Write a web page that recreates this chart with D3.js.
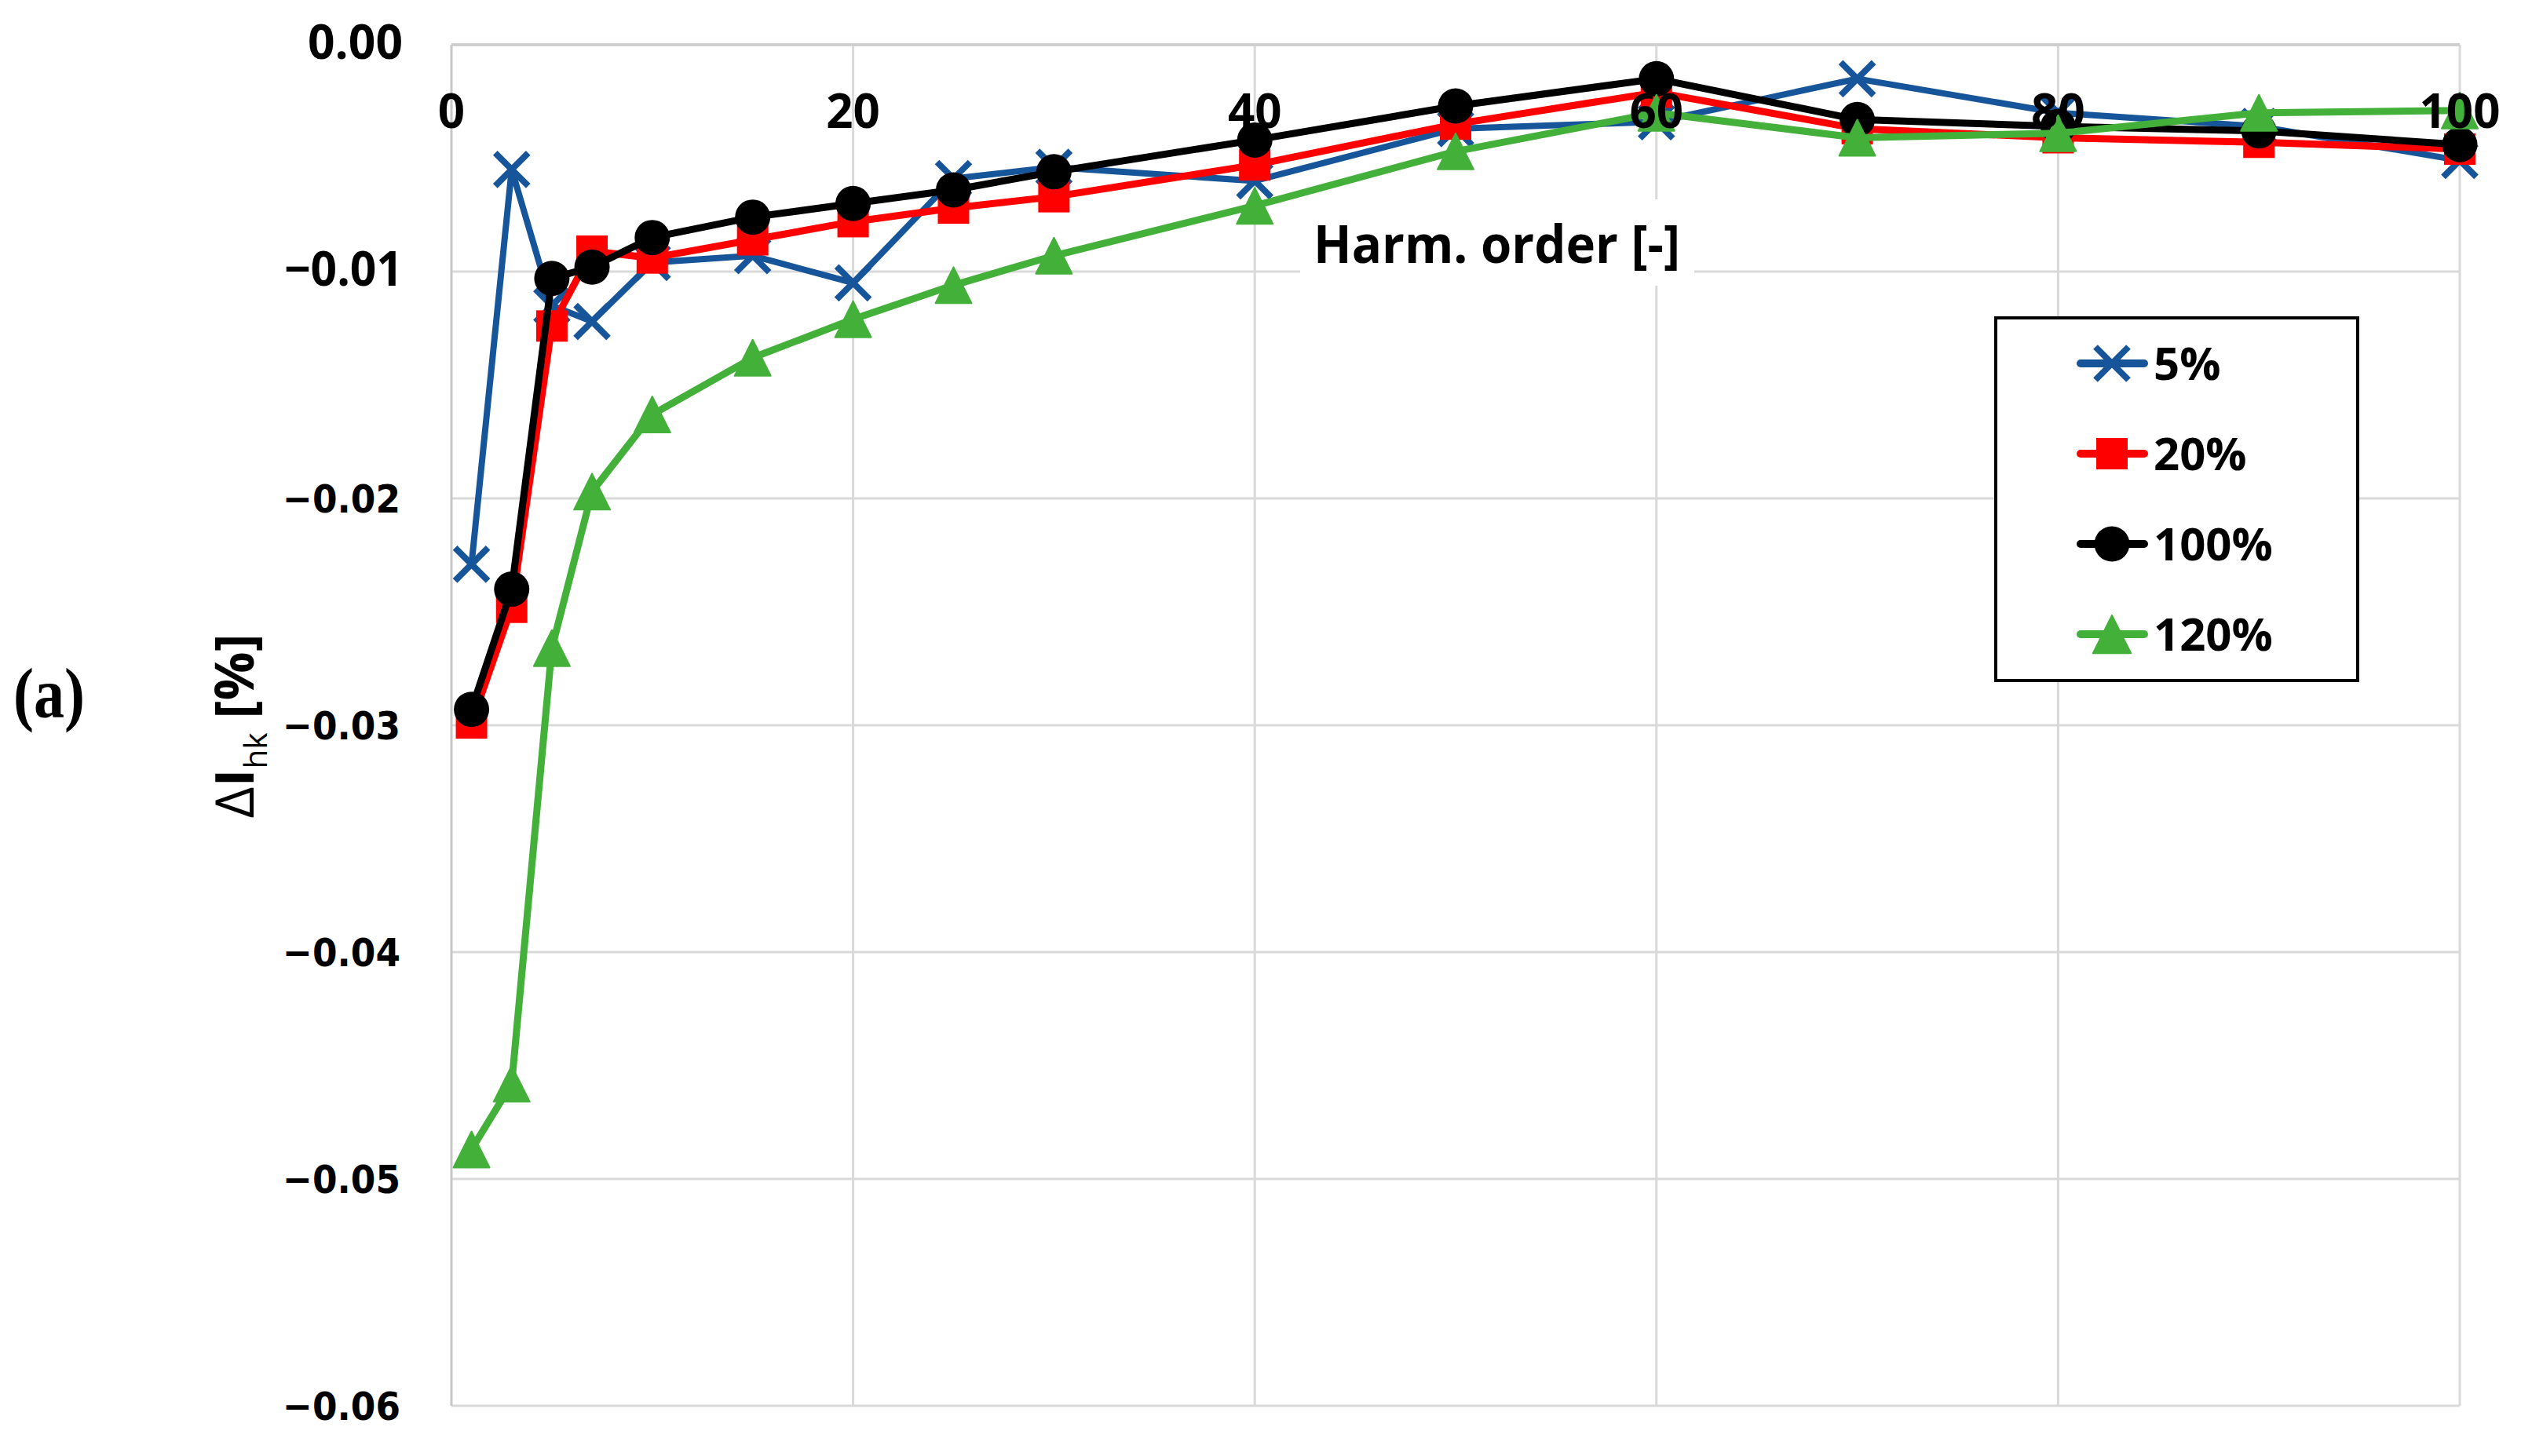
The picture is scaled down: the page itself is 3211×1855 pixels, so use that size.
<!DOCTYPE html>
<html>
<head>
<meta charset="utf-8">
<script src="https://cdn.jsdelivr.net/npm/d3@7"></script>
<style>
  html, body { margin: 0; padding: 0; background: #fff; }
  svg { display: block; }
</style>
</head>
<body>
<svg id="chart" width="3211" height="1855"></svg>
<script>
// ---------- data ----------
const harmonicOrders = [1, 3, 5, 7, 10, 15, 20, 25, 30, 40, 50, 60, 70, 80, 90, 100];
const seriesNames = ["5%", "20%", "100%", "120%"];
const values5   = [-0.0229, -0.0055, -0.0115, -0.0122, -0.0096, -0.0093, -0.0105, -0.0059, -0.0054, -0.0060, -0.0037, -0.0034, -0.0015, -0.0030, -0.0036, -0.0051];
const values20  = [-0.0299, -0.0248, -0.0124, -0.0091, -0.0094, -0.0086, -0.0078, -0.0072, -0.0067, -0.0053, -0.0035, -0.0021, -0.0037, -0.0041, -0.0043, -0.0046];
const values100 = [-0.0293, -0.0240, -0.0103, -0.0098, -0.0085, -0.0076, -0.0070, -0.0064, -0.0056, -0.0042, -0.0027, -0.0015, -0.0033, -0.0036, -0.0038, -0.0044];
const values120 = [-0.0487, -0.0458, -0.0266, -0.0197, -0.0163, -0.0138, -0.0121, -0.0106, -0.0093, -0.0071, -0.0047, -0.0030, -0.0041, -0.0039, -0.0030, -0.0029];
const xTicks = [0, 20, 40, 60, 80, 100];
const xTickLabels = ["0", "20", "40", "60", "80", "100"];
const yTicks = [0, -0.01, -0.02, -0.03, -0.04, -0.05, -0.06];
const yTickLabels = ["0.00", "\u22120.01", "\u22120.02", "\u22120.03", "\u22120.04", "\u22120.05", "\u22120.06"];
const xTitle = "Harm. order [-]";
const panelLabel = "(a)";

// ---------- styling ----------
const colors = ["#17559b", "#ff0000", "#000000", "#43b03a"];
const markers = ["x", "square", "circle", "triangle"];
const seriesValues = [values5, values20, values100, values120];

const svg = d3.select("#chart");
const x = d3.scaleLinear().domain([0, 100]).range([575, 3133]);
const y = d3.scaleLinear().domain([-0.06, 0]).range([1791, 57]);

// gridlines
const grid = svg.append("g");
grid.selectAll("line.h").data(yTicks).join("line")
  .attr("x1", x(0)).attr("x2", x(100))
  .attr("y1", d => y(d)).attr("y2", d => y(d))
  .attr("stroke", "#d9d9d9").attr("stroke-width", 3);
grid.selectAll("line.v").data(xTicks).join("line")
  .attr("y1", y(0)).attr("y2", y(-0.06))
  .attr("x1", d => x(d)).attr("x2", d => x(d))
  .attr("stroke", d => d === 0 ? "#c8c8c8" : "#d9d9d9").attr("stroke-width", 3);
// top axis line (y = 0)
grid.append("line").attr("x1", x(0)).attr("x2", x(100)).attr("y1", y(0)).attr("y2", y(0))
  .attr("stroke", "#cfcfcf").attr("stroke-width", 4);

// white box behind x title
svg.append("rect").attr("x", 1656).attr("y", 254).attr("width", 502).attr("height", 110).attr("fill", "#fff");

// series
const line = d3.line().x(d => x(d[0])).y(d => y(d[1]));
function drawMarker(g, type, color, cx, cy, sc) {
  sc = sc || 1;
  if (type === "x") {
    const s = 21 * sc;
    g.append("path").attr("d", `M${cx - s},${cy - s}L${cx + s},${cy + s}M${cx - s},${cy + s}L${cx + s},${cy - s}`)
      .attr("stroke", color).attr("stroke-width", 8).attr("fill", "none");
  } else if (type === "square") {
    const s = 20 * sc;
    g.append("rect").attr("x", cx - s).attr("y", cy - s).attr("width", 2 * s).attr("height", 2 * s).attr("fill", color);
  } else if (type === "circle") {
    g.append("circle").attr("cx", cx).attr("cy", cy).attr("r", 22.5 * sc).attr("fill", color);
  } else {
    const w = 23 * sc, h = 23 * sc;
    g.append("path").attr("d", `M${cx},${cy - h}L${cx + w},${cy + h}L${cx - w},${cy + h}Z`)
      .attr("fill", color).attr("stroke", color).attr("stroke-width", 2).attr("stroke-linejoin", "round");
  }
}
seriesValues.forEach((vals, i) => {
  const pts = harmonicOrders.map((h, j) => [h, vals[j]]);
  const g = svg.append("g");
  g.append("path").attr("d", line(pts)).attr("fill", "none")
    .attr("stroke", colors[i]).attr("stroke-width", i === 0 ? 8 : 9).attr("stroke-linejoin", "round");
  pts.forEach(p => drawMarker(g, markers[i], colors[i], x(p[0]), y(p[1])));
});

// x tick labels (top)
svg.append("g").selectAll("text").data(xTicks).join("text")
  .attr("x", d => x(d)).attr("y", 163)
  .attr("text-anchor", "middle")
  .attr("font-family", "'Open Sans', sans-serif").attr("font-weight", 700).attr("font-size", 60)
  .attr("fill", "#000")
  .text((d, i) => xTickLabels[i]);

// y tick labels
svg.append("g").selectAll("text").data(yTicks).join("text")
  .attr("x", (d, i) => i < 2 ? 513 : 510).attr("y", d => y(d) + 18)
  .attr("text-anchor", "end")
  .attr("font-family", (d, i) => i < 2 ? "'Open Sans', sans-serif" : "'DejaVu Sans', sans-serif")
  .attr("font-weight", 700)
  .attr("font-size", (d, i) => i < 2 ? 60 : 50)
  .attr("textLength", (d, i) => i === 0 ? 121 : (i === 1 ? 151 : 150))
  .attr("lengthAdjust", "spacingAndGlyphs")
  .attr("fill", "#000")
  .text((d, i) => yTickLabels[i]);

// x title
svg.append("text").attr("x", 1673).attr("y", 335)
  .attr("font-family", "'Open Sans', sans-serif").attr("font-weight", 700).attr("font-size", 66)
  .attr("textLength", 467).attr("lengthAdjust", "spacingAndGlyphs")
  .attr("fill", "#000").text(xTitle);

// y title
const yt = svg.append("text").attr("transform", "translate(323,925) rotate(-90)")
  .attr("text-anchor", "middle")
  .attr("font-family", "'Open Sans', sans-serif").attr("font-size", 68).attr("fill", "#000")
  .attr("textLength", 235).attr("lengthAdjust", "spacingAndGlyphs");
yt.append("tspan").attr("font-weight", 400).text("\u0394");
yt.append("tspan").attr("font-weight", 700).text("I");
yt.append("tspan").attr("font-weight", 400).attr("font-size", 40).attr("dy", 17).text("hk");
yt.append("tspan").attr("font-weight", 700).attr("dy", -17).text(" [%]");

// panel label
svg.append("text").attr("x", 17).attr("y", 914)
  .attr("font-family", "'Liberation Serif', serif").attr("font-weight", 700).attr("font-size", 90)
  .attr("textLength", 91).attr("lengthAdjust", "spacingAndGlyphs")
  .attr("fill", "#000").text(panelLabel);

// legend
const lg = svg.append("g");
lg.append("rect").attr("x", 2542).attr("y", 405).attr("width", 461).attr("height", 462)
  .attr("fill", "#fff").attr("stroke", "#000").attr("stroke-width", 4);
seriesNames.forEach((name, i) => {
  const cy = 463 + i * 115;
  lg.append("line").attr("x1", 2650).attr("x2", 2731).attr("y1", cy).attr("y2", cy)
    .attr("stroke", colors[i]).attr("stroke-width", 10).attr("stroke-linecap", "round");
  drawMarker(lg, markers[i], colors[i], 2690, cy, i === 3 ? 1.05 : 1);
  lg.append("text").attr("x", 2743).attr("y", cy + 21)
    .attr("font-family", "'Open Sans', sans-serif").attr("font-weight", 700).attr("font-size", 58)
    .attr("fill", "#000").text(name);
});
</script>
</body>
</html>
